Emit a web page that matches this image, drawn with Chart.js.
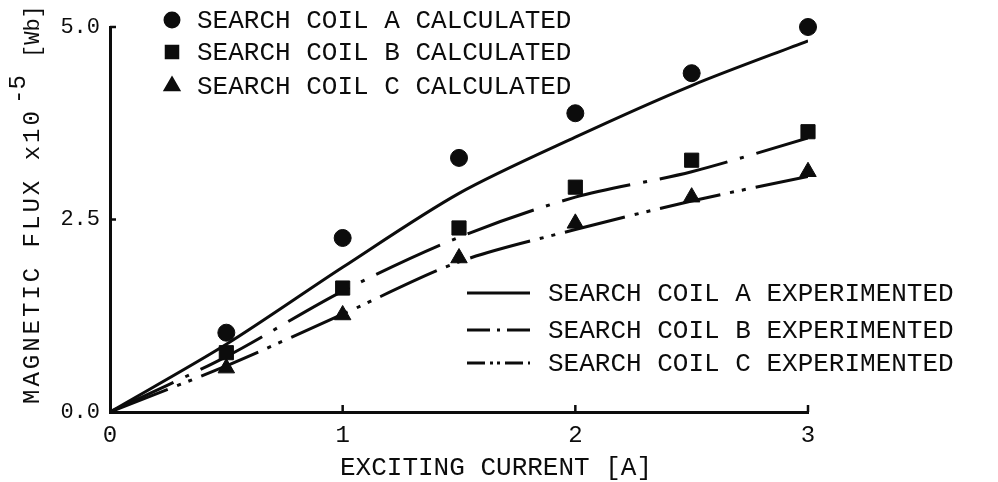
<!DOCTYPE html>
<html>
<head>
<meta charset="utf-8">
<script src="https://cdn.jsdelivr.net/npm/chart.js@4.4.1/dist/chart.umd.min.js"></script>
<style>
  html, body { margin: 0; padding: 0; background: #fff; }
</style>
</head>
<body>
<canvas id="fluxChart" width="998" height="482"></canvas>
<script>
// exciting current [A]
const current = [0, 0.5, 1, 1.5, 2, 2.5, 3];
const currentCalc = [0.5, 1, 1.5, 2, 2.5, 3];

// calculated flux (x10^-5 Wb)
const calcA = [1.03, 2.26, 3.30, 3.88, 4.40, 5.0];
const calcB = [0.77, 1.61, 2.39, 2.92, 3.27, 3.64];
const calcC = [0.57, 1.26, 2.00, 2.45, 2.79, 3.12];

// experimented flux (x10^-5 Wb)
const expA = [0, 0.88, 1.88, 2.84, 3.57, 4.24, 4.82];
const expB = [0, 0.72, 1.57, 2.27, 2.79, 3.12, 3.56];
const expC = [0, 0.60, 1.27, 1.95, 2.37, 2.74, 3.06];

const xTicks = [0, 1, 2, 3];
const yTicks = [0, 2.5, 5.0];

const INK = '#0c0c0c';
const FONT = '"Liberation Mono", "Courier New", monospace';

const toPoints = (xs, ys) => xs.map((x, i) => ({x, y: ys[i]}));

const calcStyle = (style, r) => ({
  type: 'scatter', showLine: false, clip: false,
  pointStyle: style, pointRadius: r, pointHoverRadius: r,
  backgroundColor: INK, borderColor: INK, borderWidth: 1
});

const expStyle = dash => ({
  type: 'line', borderColor: INK, borderWidth: 3, borderDash: dash,
  pointRadius: 0, tension: 0.3, fill: false
});

const datasets = [
  {label: 'SEARCH COIL A CALCULATED', data: toPoints(currentCalc, calcA), ...calcStyle('circle', 8.5)},
  {label: 'SEARCH COIL B CALCULATED', data: toPoints(currentCalc, calcB), ...calcStyle('rect', 10)},
  {label: 'SEARCH COIL C CALCULATED', data: toPoints(currentCalc, calcC), ...calcStyle('triangle', 9.5)},
  {label: 'SEARCH COIL A EXPERIMENTED', data: toPoints(current, expA), ...expStyle([]), sample: []},
  {label: 'SEARCH COIL B EXPERIMENTED', data: toPoints(current, expB), ...expStyle([70, 13, 4, 13]), sample: [23, 7, 3, 7]},
  {label: 'SEARCH COIL C EXPERIMENTED', data: toPoints(current, expC), ...expStyle([62, 10, 4, 8, 4, 10]), sample: [18, 5, 3, 4, 3, 5]}
];

// inward tick marks, axis titles and the two legend blocks
const decoraciones = {
  id: 'decoraciones',
  afterDraw(chart) {
    const {ctx, chartArea, scales: {x, y}} = chart;
    ctx.save();
    ctx.strokeStyle = INK;
    ctx.fillStyle = INK;
    ctx.lineWidth = 2.5;

    xTicks.slice(1).forEach(v => {
      const px = x.getPixelForValue(v);
      ctx.beginPath();
      ctx.moveTo(px, chartArea.bottom);
      ctx.lineTo(px, chartArea.bottom - 7);
      ctx.stroke();
    });
    yTicks.slice(1).forEach(v => {
      const py = y.getPixelForValue(v);
      ctx.beginPath();
      ctx.moveTo(chartArea.left, py);
      ctx.lineTo(chartArea.left + 6, py);
      ctx.stroke();
    });

    // x title
    ctx.font = `26px ${FONT}`;
    ctx.textBaseline = 'middle';
    ctx.textAlign = 'left';
    ctx.fillText('EXCITING CURRENT [A]', 340, 468);

    // y title, rotated, with superscript exponent
    ctx.save();
    ctx.translate(33, 404);
    ctx.rotate(-Math.PI / 2);
    ctx.font = `24px ${FONT}`;
    ctx.letterSpacing = '3px';
    ctx.fillText('MAGNETIC FLUX x10', 0, 0);
    ctx.letterSpacing = '0px';
    ctx.fillText('-5', 300, -14);
    ctx.font = `22px ${FONT}`;
    ctx.fillText('[Wb]', 346, 0);
    ctx.restore();

    // legend: calculated
    const rows1 = [20, 52, 86];
    datasets.slice(0, 3).forEach((ds, i) => {
      Chart.helpers.drawPoint(ctx, {pointStyle: ds.pointStyle, radius: ds.pointRadius * 0.85, rotation: 0, borderWidth: 1}, 172, rows1[i]);
      ctx.font = `26px ${FONT}`;
      ctx.fillText(ds.label, 197, rows1[i] + 1);
    });

    // legend: experimented
    const rows2 = [293, 330, 363];
    datasets.slice(3).forEach((ds, i) => {
      ctx.save();
      ctx.lineWidth = 3;
      ctx.setLineDash(ds.sample);
      ctx.beginPath();
      ctx.moveTo(467, rows2[i]);
      ctx.lineTo(530, rows2[i]);
      ctx.stroke();
      ctx.restore();
      ctx.font = `26px ${FONT}`;
      ctx.fillText(ds.label, 548, rows2[i] + 1);
    });
    ctx.restore();
  }
};

new Chart(document.getElementById('fluxChart').getContext('2d'), {
  data: {datasets},
  options: {
    responsive: false,
    animation: false,
    devicePixelRatio: 1,
    layout: {padding: {top: 27, right: 190, left: 0, bottom: 0}},
    plugins: {legend: {display: false}, tooltip: {enabled: false}},
    scales: {
      x: {
        type: 'linear', min: 0, max: 3,
        afterFit: s => { s.height = 70; },
        afterBuildTicks: s => { s.ticks = xTicks.map(v => ({value: v})); },
        grid: {display: false, drawTicks: false},
        border: {display: true, color: INK, width: 3},
        ticks: {padding: 9, color: INK, font: {family: FONT, size: 24}, callback: v => String(v)}
      },
      y: {
        type: 'linear', min: 0, max: 5,
        afterFit: s => { s.width = 110; },
        afterBuildTicks: s => { s.ticks = yTicks.map(v => ({value: v})); },
        grid: {display: false, drawTicks: false},
        border: {display: true, color: INK, width: 3},
        ticks: {padding: 10, color: INK, font: {family: FONT, size: 22}, callback: v => v.toFixed(1)}
      }
    }
  },
  plugins: [decoraciones]
});
</script>
</body>
</html>
